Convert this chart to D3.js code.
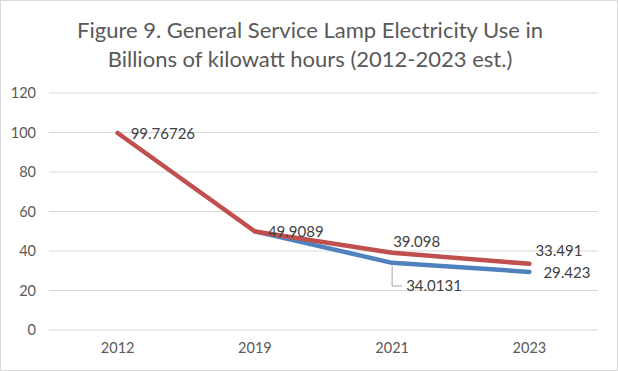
<!DOCTYPE html>
<html><head><meta charset="utf-8">
<script src="https://cdn.jsdelivr.net/npm/d3@7"></script>
<style>body{margin:0;background:#fff}svg{display:block}</style>
</head><body>
<svg id="c" width="618" height="371"></svg>
<script>
const categories = ["2012","2019","2021","2023"];
const redValues = [99.76726, 49.9089, 39.098, 33.491];
const blueValues = [null, 49.9089, 34.0131, 29.423];
const yTicks = [0,20,40,60,80,100,120];
const titleLines = ["Figure 9. General Service Lamp Electricity Use in","Billions of kilowatt hours (2012-2023 est.)"];

const svg = d3.select("#c");
const font = "Lato, 'Open Sans', sans-serif";
svg.append("rect").attr("x",0.5).attr("y",0.5).attr("width",617).attr("height",370)
  .attr("fill","#fff").attr("stroke","#d9d9d9");

const x = d3.scaleBand().domain(categories).range([49,598]);
const y = d3.scaleLinear().domain([0,120]).range([330,93]);

svg.selectAll("text.title").data(titleLines).join("text")
  .attr("x",310).attr("y",(d,i)=>38+i*29).attr("text-anchor","middle")
  .attr("font-family",font).attr("font-size",22).attr("fill","#595959").text(d=>d);

// gridlines
svg.append("g").selectAll("line").data(yTicks).join("line")
  .attr("x1",49).attr("x2",598).attr("y1",d=>y(d)).attr("y2",d=>y(d))
  .attr("stroke","#d9d9d9").attr("stroke-width",1);

const yAxis = svg.append("g").attr("transform","translate(49,0)")
  .call(d3.axisLeft(y).tickValues(yTicks).tickSize(0).tickPadding(13));
yAxis.select(".domain").remove();
yAxis.selectAll("text").attr("font-family",font).attr("font-size",14.5).attr("fill","#595959");

const xAxis = svg.append("g").attr("transform","translate(0,330)")
  .call(d3.axisBottom(x).tickSize(0).tickPadding(13));
xAxis.select(".domain").remove();
xAxis.selectAll("text").attr("font-family",font).attr("font-size",14.5).attr("fill","#595959");

const cx = c => x(c) + x.bandwidth()/2;
const line = d3.line().defined(d=>d[1]!=null).x(d=>cx(d[0])).y(d=>y(d[1]));
const blueData = categories.map((c,i)=>[c,blueValues[i]]);
const redData = categories.map((c,i)=>[c,redValues[i]]);
svg.append("path").datum(blueData).attr("d",line).attr("fill","none")
  .attr("stroke","#4F81BD").attr("stroke-width",4.5).attr("stroke-linejoin","round").attr("stroke-linecap","round");
svg.append("path").datum(redData).attr("d",line).attr("fill","none")
  .attr("stroke","#C0504D").attr("stroke-width",4.5).attr("stroke-linejoin","round").attr("stroke-linecap","round");

// labels
const labels = [
  {c:"2012", v:redValues[0], dx:13, dy:6},
  {c:"2019", v:redValues[1], dx:13, dy:6},
  {c:"2021", v:redValues[2], dx:1, dy:-6},
  {c:"2023", v:redValues[3], dx:6, dy:-8},
  {c:"2023", v:blueValues[3], dx:14, dy:6},
  {c:"2021", v:blueValues[2], dx:14, dy:0, fixedY:291}
];
labels.forEach(l=>{
  const tx = cx(l.c)+l.dx, ty = l.fixedY != null ? l.fixedY : y(l.v)+l.dy;
  svg.append("text").attr("x",tx).attr("y",ty).attr("font-family",font)
    .attr("font-size",15).attr("fill","#404040").text(l.v);
});
// leader line for 34.0131
const lx = cx("2021");
svg.append("path").attr("d",`M${lx},${y(blueValues[2])+3}V286H${lx+10}`)
  .attr("fill","none").attr("stroke","#a6a6a6").attr("stroke-width",1);
</script>
</body></html>
